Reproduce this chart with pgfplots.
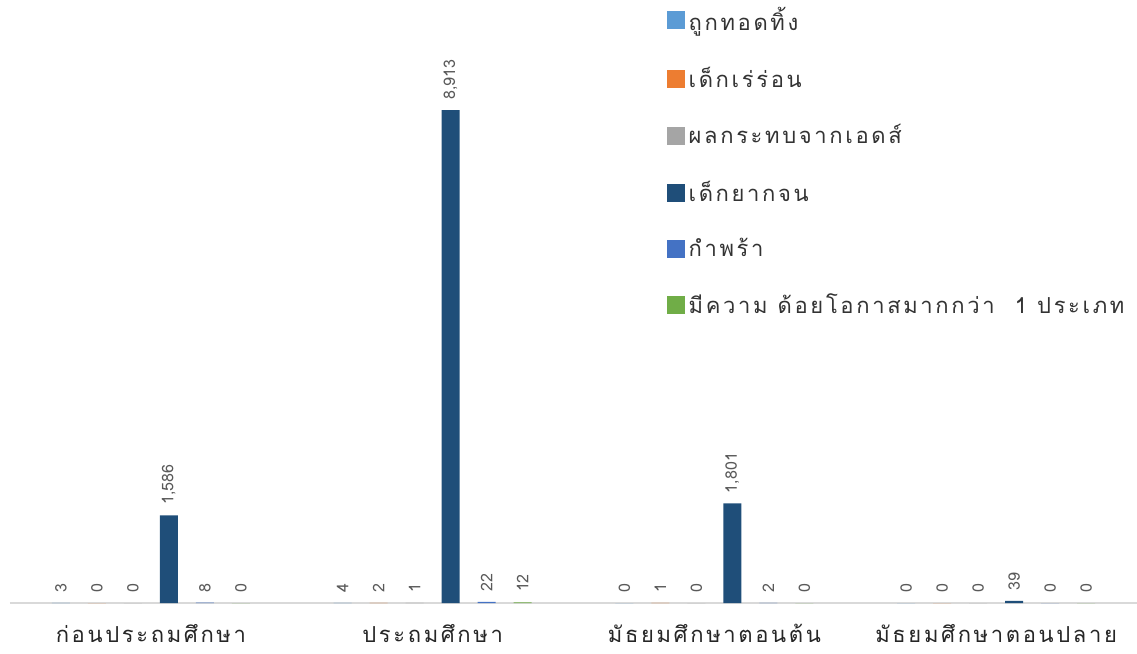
\documentclass[border=0pt]{standalone}
\usepackage{pgfplots}
\pgfplotsset{compat=1.18}
\usepackage{fontspec}
\newfontfamily\thaifont[Script=Thai,LetterSpace=12]{Loma}
\newfontfamily\numfont{Loma}
\definecolor{cA}{HTML}{5B9BD5}
\definecolor{cB}{HTML}{ED7D31}
\definecolor{cC}{HTML}{A5A5A5}
\definecolor{cD}{HTML}{1F4E79}
\definecolor{cE}{HTML}{4472C4}
\definecolor{cF}{HTML}{70AD47}
\begin{document}
\begin{tikzpicture}
\begin{axis}[name=ax, at={(0,0)}, anchor=south west, scale only axis,
  width=563.5pt, height=276.5pt,
  xmin=-0.5, xmax=3.5, ymin=0, ymax=10000,
  ybar=9pt, bar width=9pt, clip=false,
  axis y line=none, axis x line*=bottom,
  x axis line style={draw=black!15, line width=1pt, -},
  xtick={0,1,2,3},
  xticklabels={ก่อนประถมศึกษา,ประถมศึกษา,มัธยมศึกษาตอนต้น,มัธยมศึกษาตอนปลาย},
  major tick length=0pt,
  xticklabel style={font=\thaifont\fontsize{11}{13}\selectfont, text=black!85, yshift=-7pt},
  nodes near coords,
  every node near coord/.append style={rotate=90, anchor=west, font=\numfont\fontsize{8}{9}\selectfont, text=black!65, inner sep=5pt},
  /pgf/number format/1000 sep={,},
  /pgf/number format/assume math mode=true,
  legend cell align=left,
  legend style={at={(0.577,1.093)}, anchor=north west, draw=none, fill=none,
    font=\thaifont\fontsize{11}{13}\selectfont, text=black!80, row sep=13pt},
  legend image code/.code={\fill[#1] (0pt,-4.5pt) rectangle (9pt,4.5pt);},
]
\addplot[fill=cA, draw=none] coordinates {(0,3) (1,4) (2,0) (3,0)};
\addlegendentry{ถูกทอดทิ้ง}
\addplot[fill=cB, draw=none] coordinates {(0,0) (1,2) (2,1) (3,0)};
\addlegendentry{เด็กเร่ร่อน}
\addplot[fill=cC, draw=none] coordinates {(0,0) (1,1) (2,0) (3,0)};
\addlegendentry{ผลกระทบจากเอดส์}
\addplot[fill=cD, draw=none] coordinates {(0,1586) (1,8913) (2,1801) (3,39)};
\addlegendentry{เด็กยากจน}
\addplot[fill=cE, draw=none] coordinates {(0,8) (1,22) (2,2) (3,0)};
\addlegendentry{กำพร้า}
\addplot[fill=cF, draw=none] coordinates {(0,0) (1,12) (2,0) (3,0)};
\addlegendentry{มีความ ด้อยโอกาสมากกว่า\ \ 1 ประเภท}
\end{axis}
\pgfresetboundingbox
\path (ax.south west) ++(-5pt,-25.5pt) rectangle ++(568.5pt,327pt);
\end{tikzpicture}
\end{document}
